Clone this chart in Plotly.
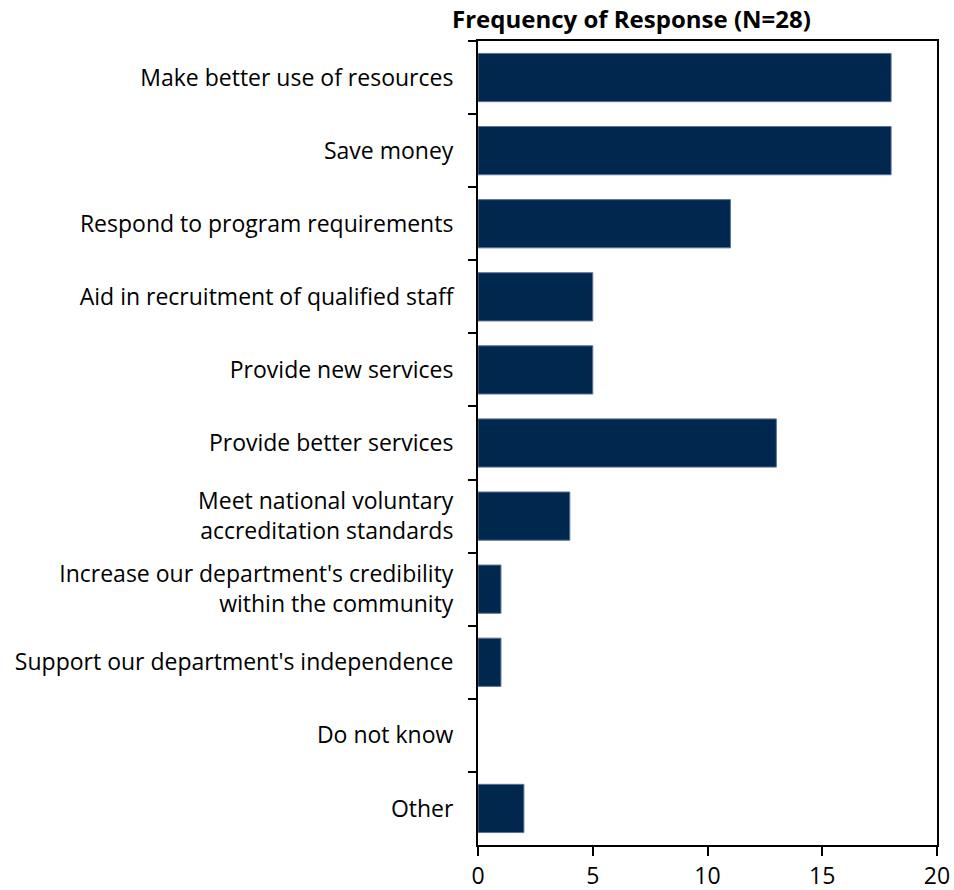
import plotly.graph_objects as go

categories = [
    "Make better use of resources",
    "Save money",
    "Respond to program requirements",
    "Aid in recruitment of qualified staff",
    "Provide new services",
    "Provide better services",
    "Meet national voluntary<br>accreditation standards",
    "Increase our department's credibility<br>within the community",
    "Support our department's independence",
    "Do not know",
    "Other",
]
counts = [18, 18, 11, 5, 5, 13, 4, 1, 1, 0, 2]
x_ticks = [0, 5, 10, 15, 20]

bar_color = "#00284F"
font_family = "Open Sans, Liberation Sans, sans-serif"

fig = go.Figure(
    go.Bar(
        y=categories,
        x=counts,
        orientation="h",
        width=0.66,
        marker=dict(
            color=bar_color,
            line=dict(color="#5A7396", width=[1 if v > 0 else 0 for v in counts]),
        ),
    )
)

fig.update_layout(
    width=954,
    height=890,
    margin=dict(l=478, r=17, t=41, b=45),
    plot_bgcolor="white",
    paper_bgcolor="white",
    showlegend=False,
    font=dict(family=font_family, size=23, color="black"),
    title=dict(
        text="<b>Frequency of Response (N=28)</b>",
        x=452 / 954,
        xanchor="left",
        xref="container",
        y=1 - 20 / 890,
        yanchor="middle",
        yref="container",
        font=dict(family=font_family, size=24, color="black"),
    ),
)

fig.update_xaxes(
    range=[0, 20],
    tickvals=x_ticks,
    ticktext=[str(v) for v in x_ticks],
    showgrid=False,
    zeroline=False,
    showline=True,
    linecolor="black",
    linewidth=2,
    mirror=True,
    ticks="outside",
    ticklen=9,
    tickwidth=2,
    tickcolor="black",
    tickfont=dict(size=23),
    automargin=False,
)

fig.update_yaxes(
    categoryorder="array",
    categoryarray=categories,
    autorange="reversed",
    showgrid=False,
    zeroline=False,
    showline=True,
    linecolor="black",
    linewidth=2,
    mirror=True,
    ticks="outside",
    tickson="boundaries",
    ticklen=8,
    tickwidth=2,
    tickcolor="black",
    tickfont=dict(size=23),
    ticklabelstandoff=18,
    automargin=False,
)

fig.write_html("out.html")
